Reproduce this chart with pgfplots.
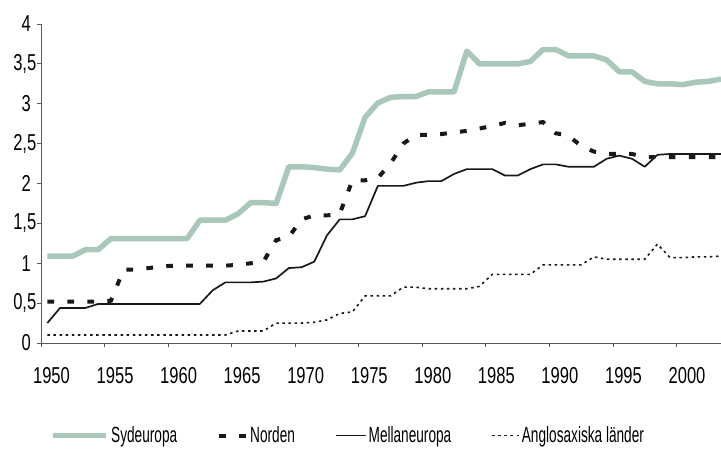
\documentclass[border=0pt]{standalone}
\usepackage{fontspec}
\setmainfont{Liberation Sans}[FakeStretch=0.72]
\newfontfamily\legfont{Liberation Sans}[FakeStretch=0.62]
\usepackage{pgfplots}
\pgfplotsset{compat=1.18}
\usepackage{pgfplotstable}
\definecolor{sydgreen}{RGB}{170,200,186}
\definecolor{axgray}{RGB}{90,90,90}

\pgfplotsset{
  legA/.style={legend image code/.code={\draw[##1] (0pt,0pt) -- (53pt,0pt);}},
  legB/.style={legend image code/.code={\draw[##1] (0pt,0pt) -- (27pt,0pt);}},
  legC/.style={legend image code/.code={\draw[##1] (0pt,0pt) -- (30pt,0pt);}},
}

\pgfplotstableread{
year syd nor mel ang
1950 1.09 0.52 0.25 0.10
1951 1.09 0.52 0.44 0.10
1952 1.09 0.52 0.44 0.10
1953 1.17 0.52 0.44 0.10
1954 1.17 0.52 0.49 0.10
1955 1.31 0.53 0.49 0.10
1956 1.31 0.92 0.49 0.10
1957 1.31 0.92 0.49 0.10
1958 1.31 0.94 0.49 0.10
1959 1.31 0.96 0.49 0.10
1960 1.31 0.97 0.49 0.10
1961 1.31 0.97 0.49 0.10
1962 1.54 0.97 0.49 0.10
1963 1.54 0.97 0.66 0.10
1964 1.54 0.97 0.76 0.10
1965 1.62 0.98 0.76 0.15
1966 1.76 1.00 0.76 0.15
1967 1.76 1.02 0.77 0.15
1968 1.75 1.29 0.81 0.25
1969 2.21 1.33 0.94 0.25
1970 2.21 1.55 0.95 0.25
1971 2.20 1.60 1.02 0.26
1972 2.18 1.60 1.35 0.29
1973 2.17 1.62 1.55 0.37
1974 2.38 2.04 1.55 0.39
1975 2.83 2.04 1.59 0.59
1976 3.01 2.07 1.97 0.59
1977 3.08 2.25 1.97 0.59
1978 3.09 2.50 1.97 0.70
1979 3.09 2.61 2.01 0.70
1980 3.15 2.61 2.03 0.68
1981 3.15 2.62 2.03 0.68
1982 3.15 2.64 2.12 0.68
1983 3.66 2.66 2.18 0.68
1984 3.50 2.69 2.18 0.71
1985 3.50 2.72 2.18 0.86
1986 3.50 2.76 2.10 0.86
1987 3.50 2.73 2.10 0.86
1988 3.53 2.75 2.18 0.86
1989 3.68 2.77 2.24 0.98
1990 3.68 2.63 2.24 0.98
1991 3.60 2.60 2.21 0.98
1992 3.60 2.47 2.21 0.98
1993 3.60 2.40 2.21 1.08
1994 3.55 2.37 2.31 1.05
1995 3.40 2.37 2.35 1.05
1996 3.40 2.37 2.31 1.05
1997 3.28 2.33 2.21 1.05
1998 3.25 2.33 2.36 1.24
1999 3.25 2.33 2.37 1.07
2000 3.24 2.33 2.37 1.07
2001 3.27 2.33 2.37 1.08
2002 3.28 2.33 2.37 1.08
2003 3.31 2.33 2.37 1.09
}\datatable

\begin{document}
\begin{tikzpicture}
\useasboundingbox (0,0) rectangle (721pt,450pt);
\begin{axis}[
  at={(41pt,107pt)}, anchor=south west,
  scale only axis, width=680pt, height=319pt,
  xmin=1949.5, xmax=2003, ymin=0, ymax=4,
  axis lines*=left,
  axis line style={axgray, line width=0.8pt},
  xtick={1949.5,1954.5,1959.5,1964.5,1969.5,1974.5,1979.5,1984.5,1989.5,1994.5,1999.5},
  xticklabels={1950,1955,1960,1965,1970,1975,1980,1985,1990,1995,2000},
  ytick={0,0.5,1,1.5,2,2.5,3,3.5,4},
  yticklabels={0\kern5.5pt,{0,5},1\kern5.5pt,{1,5},2\kern5.5pt,{2,5},3\kern5.5pt,{3,5},4\kern5.5pt},
  tick align=outside, major tick length=4pt,
  tick style={axgray, line width=0.8pt},
  ticklabel style={font=\fontsize{23}{25}\selectfont},
  xticklabel style={xshift=10.5pt, inner ysep=0pt, yshift=-20pt},
  yticklabel style={inner xsep=0.5pt},
  legend columns=4,
  legend style={draw=none, fill=none, at={(0.452,-0.29)}, anchor=center,
    font=\legfont\fontsize{22}{24}\selectfont,
    /tikz/every even column/.append style={column sep=38pt}},
]
\addplot[sydgreen, line width=5.5pt, line join=round, legA]
  table[x=year, y=syd] {\datatable};
\addlegendentry{Sydeuropa}
\addplot[black!90, line width=4pt, dash pattern=on 6.7pt off 13.3pt, legB]
  table[x=year, y=nor] {\datatable};
\addlegendentry{Norden}
\addplot[black!90, line width=1.7pt, line join=round, legC]
  table[x=year, y=mel] {\datatable};
\addlegendentry{Mellaneuropa}
\addplot[black!90, line width=1.6pt, dash pattern=on 2.5pt off 3.6pt, legB]
  table[x=year, y=ang] {\datatable};
\addlegendentry{Anglosaxiska länder}
\end{axis}
\end{tikzpicture}
\end{document}
